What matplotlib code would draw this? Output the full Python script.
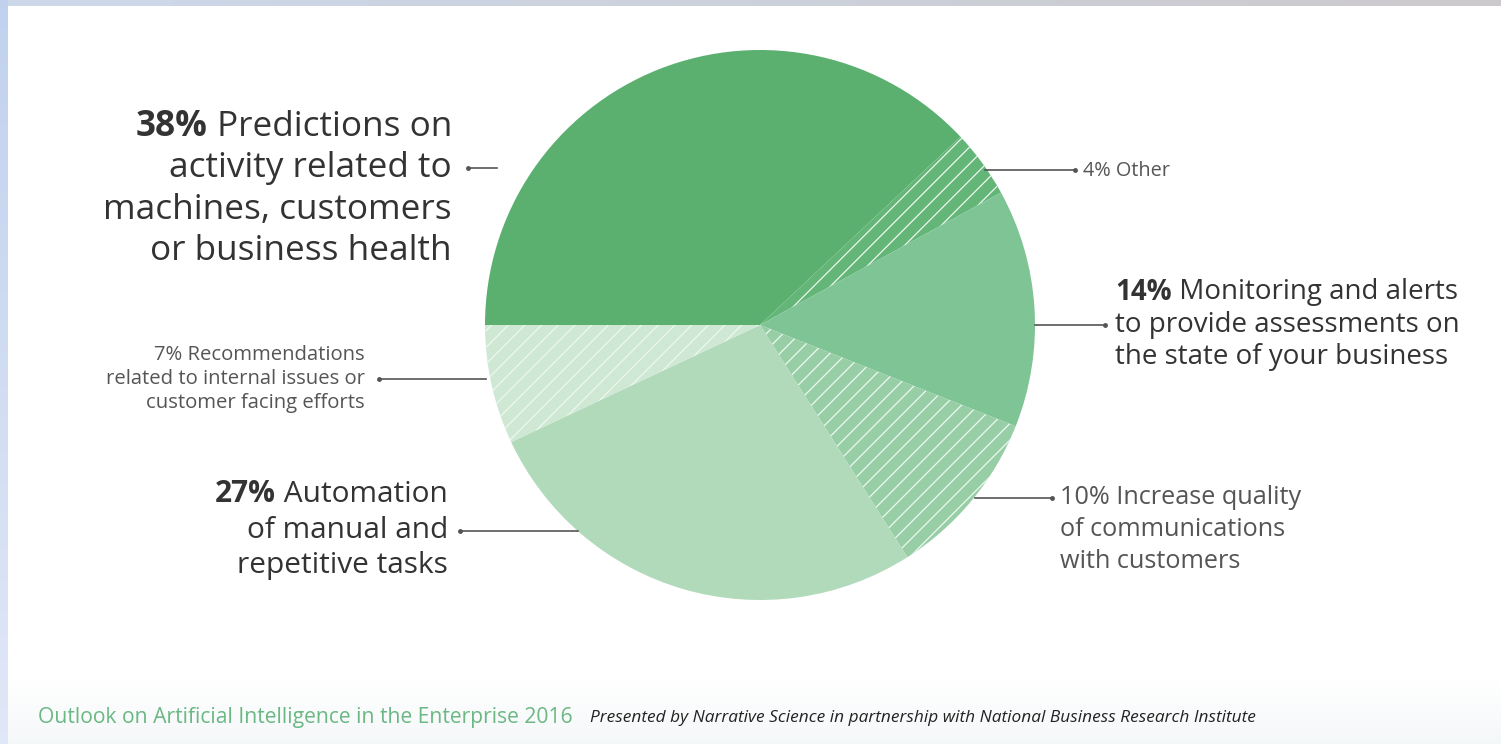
import matplotlib
matplotlib.use("Agg")
import matplotlib.pyplot as plt
from matplotlib.patches import Rectangle
from matplotlib.offsetbox import TextArea, HPacker, AnnotationBbox
import numpy as np

plt.rcParams['font.family'] = ['Open Sans', 'DejaVu Sans']
plt.rcParams['hatch.color'] = '#eef8f0'
plt.rcParams['hatch.linewidth'] = 0.9

# ---- data ----
shares = [38, 4, 14, 10, 27, 7]
slice_names = ["Predictions", "Other", "Monitoring", "Communications", "Automation", "Recommendations"]
colors = ["#5bb06f", "#64b578", "#7ec495", "#97cea6", "#b0dab9", "#cfe8d4"]
hatches = [None, "//", None, "//", None, "//"]

W, H = 1501, 744
fig = plt.figure(figsize=(W / 100, H / 100), dpi=100)
ax = fig.add_axes([0, 0, 1, 1])


def Y(py):
    return H - py


# ---- pie ----
cx, cy, r = 760, Y(325), 275
wedges, _ = ax.pie(shares, colors=colors, startangle=180, counterclock=False,
                   center=(cx, cy), radius=r, frame=True,
                   wedgeprops=dict(linewidth=0))
for w, h in zip(wedges, hatches):
    w.set_zorder(2)
    if h:
        w.set_hatch(h)

ax.set_xlim(0, W)
ax.set_ylim(0, H)
ax.set_aspect('equal')
ax.axis('off')

# background frame
ax.add_patch(Rectangle((0, 0), W, H, facecolor='white', edgecolor='none', zorder=0))
grad = np.linspace(0, 1, 30).reshape(-1, 1)
ax.imshow(np.dstack([1 - 0.04 * grad, 1 - 0.03 * grad, 1 - 0.025 * grad]),
          extent=[0, W, Y(744), Y(680)], aspect='auto', zorder=0.5, origin='upper')
top = np.linspace(0, 1, 200).reshape(1, -1)
top_rgb = np.dstack([0.80 + 0.0 * top, 0.85 - 0.06 * top, 0.92 - 0.12 * top])
ax.imshow(top_rgb, extent=[0, W, Y(6), Y(0)], aspect='auto', zorder=1)
left = np.linspace(0, 1, 200).reshape(-1, 1)
left_rgb = np.dstack([0.76 + 0.12 * left, 0.82 + 0.09 * left, 0.93 + 0.04 * left])
ax.imshow(left_rgb, extent=[0, 8, Y(744), Y(0)], aspect='auto', zorder=1, origin='upper')
ax.set_xlim(0, W)
ax.set_ylim(0, H)

dark = "#333333"
grey = "#555555"
lc = "#555555"


def leader(x0, x1, y, dot_x):
    ax.plot([x0, x1], [Y(y), Y(y)], color=lc, lw=1.2, zorder=3)
    ax.plot([dot_x], [Y(y)], 'o', color=lc, ms=2.5, zorder=3)


def rich(x, y, bold, rest, size, ha, color):
    ta1 = TextArea(bold, textprops=dict(fontsize=size, fontweight='bold', color=color))
    ta2 = TextArea(" " + rest, textprops=dict(fontsize=size, color=color))
    box = HPacker(children=[ta1, ta2], align='baseline', pad=0, sep=0)
    xa = 1.0 if ha == 'right' else 0.0
    ab = AnnotationBbox(box, (x, Y(y)), xycoords='data', box_alignment=(xa, 0.5),
                        frameon=False, pad=0)
    ax.add_artist(ab)


# 38% label
rich(452, 127, "38%", "Predictions on", 25.3, 'right', dark)
for s, yy in zip(["activity related to", "machines, customers", "or business health"], [168, 210, 251]):
    ax.text(452, Y(yy), s, ha='right', va='center', fontsize=25.3, color=dark)
leader(468, 497, 168, 468)

# 4% other
ax.text(1083, Y(171), "4% Other", ha='left', va='center', fontsize=14.3, color=grey)
leader(985, 1075, 170, 1075)

# 14% label
rich(1115, 292, "14%", "Monitoring and alerts", 20, 'left', dark)
ax.text(1115, Y(325), "to provide assessments on", ha='left', va='center', fontsize=20, color=dark)
ax.text(1115, Y(357), "the state of your business", ha='left', va='center', fontsize=20, color=dark)
leader(1035, 1105, 325, 1105)

# 10% label
for s, yy in zip(["10% Increase quality", "of communications", "with customers"], [498, 530, 561]):
    ax.text(1060, Y(yy), s, ha='left', va='center', fontsize=18.2, color=grey)
leader(975, 1052, 498, 1052)

# 27% label
rich(448, 494, "27%", "Automation", 21.5, 'right', dark)
ax.text(448, Y(530), "of manual and", ha='right', va='center', fontsize=21.5, color=dark)
ax.text(448, Y(565), "repetitive tasks", ha='right', va='center', fontsize=21.5, color=dark)
leader(460, 578, 531, 460)

# 7% label
for s, yy in zip(["7% Recommendations", "related to internal issues or", "customer facing efforts"], [355, 379, 403]):
    ax.text(365, Y(yy), s, ha='right', va='center', fontsize=14.6, color=grey)
leader(379, 486, 379, 379)

# footer
ax.text(38, Y(718), "Outlook on Artificial Intelligence in the Enterprise 2016", ha='left', va='center',
        fontsize=15.2, color="#6bb884", zorder=3)
ax.text(590, Y(718), "Presented by Narrative Science in partnership with National Business Research Institute",
        ha='left', va='center', fontsize=12.4, style='italic', color="#222222", zorder=3)

fig.savefig("out.png", dpi=100)
